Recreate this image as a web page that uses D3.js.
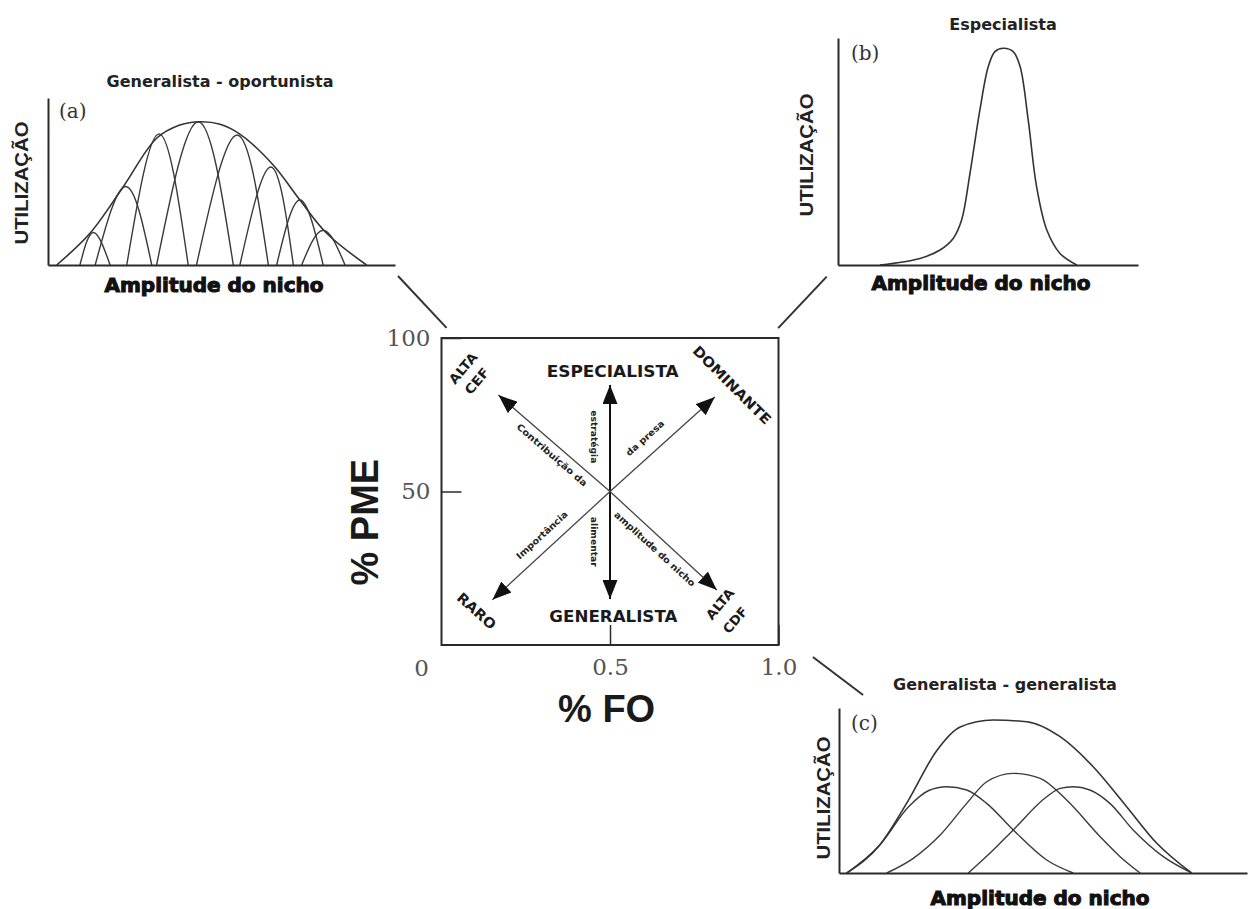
<!DOCTYPE html>
<html>
<head>
<meta charset="utf-8">
<script src="https://cdn.jsdelivr.net/npm/d3@7"></script>
<style>
  body { margin: 0; background: #fff; }
  svg { display: block; }
  .ax path, .ax line { stroke: #2a2a2a; }
</style>
</head>
<body>
<svg id="chart"></svg>
<script>
// utilisation curves
// x: 0-100 along each small axis, y: 0-100 utilisation

// (a) generalista - oportunista: envelope + narrow individual arches
var envelopeA = [[2.5,0],[12.1,19],[21.7,46.9],[31.3,75.9],[38,83.8],[43.8,85.8],[49.6,84.3],[55.3,78.4],[64.9,59.9],[72.6,38.9],[80.3,19],[91.8,0]];
var archesA = [
  [[9.2,0],[13.1,19.5],[17.9,0]],
  [[13.6,0],[22.4,47],[29.9,0]],
  [[22.7,0],[32.0,78.5],[40.4,0]],
  [[31.3,0],[43.3,85.8],[53.4,0]],
  [[42.8,0],[54.5,77.8],[63.5,0]],
  [[55.3,0],[64.2,58.7],[70.7,0]],
  [[65.9,0],[72.6,38.9],[79.3,0]],
  [[73.1,0],[79.3,20.8],[85.6,0]]
];

// (b) especialista
var curveB = [[14,0],[27.3,2.9],[34,6.6],[38.4,11.7],[41.2,19.8],[44,40.4],[47.3,68.3],[50.1,87.4],[52.3,94],[55.1,95.5],[58.4,94],[60.7,87.4],[63.4,63.9],[66.2,34.5],[69.6,15.4],[74,5.1],[79.6,0]];

// (c) generalista - generalista: envelope + three wide bumps
var envelopeC = [[1.9,0],[10,17],[17,44],[23.9,74],[29.7,88.5],[37.8,92.7],[46,91.7],[54.2,82.6],[62.3,64.4],[70.5,40.2],[77.9,18],[86.4,0]];
var bumpsC = [
  [[1.9,0],[10,17],[17,40],[22,50],[26.4,52.3],[31.3,50.3],[36.2,42.2],[42.7,26.1],[50.9,7.9],[57.4,0]],
  [[11.7,0],[18.2,8.9],[24.8,23],[31.3,42.2],[36.2,55.3],[42.7,60.4],[49.3,57.4],[55.8,44.2],[64,22],[68.9,9.9],[73.8,0]],
  [[31.7,0],[37.8,13.9],[42.7,26.1],[50.9,46.2],[54.2,51.3],[57.4,52.3],[61.5,50.3],[66.4,42.2],[72.1,26.1],[79.5,9.9],[86.4,0]]
];

var panelTitles = ["Generalista - oportunista", "Especialista", "Generalista - generalista"];
var panelTags = ["(a)", "(b)", "(c)"];
var panelYLabel = "UTILIZAÇÃO";
var panelXLabel = "Amplitude do nicho";

// central diagram (%FO on x, %PME on y)
var boxYTicks = [50, 100];
var boxXTicks = [0.5, 1.0];
var originLabel = "0";
var arrowCenter = [0.5, 50];
var arrowTips = [[0.5,84.7],[0.5,15.0],[0.169,81.4],[0.811,80.8],[0.151,14.7],[0.817,17.9]];
var cornerLabels = ["ESPECIALISTA", "GENERALISTA", "ALTA", "CEF", "DOMINANTE", "RARO", "ALTA", "CDF"];
var arrowLabels = ["Contribuição da", "estratégia", "da presa", "Importância", "alimentar", "amplitude do nicho"];
var boxXTitle = "% FO", boxYTitle = "% PME";

// ---------------------------------------------------------------
var W = 1256, H = 909;
var ink = "#2a2a2a";
var svg = d3.select("#chart").attr("width", W).attr("height", H);

var panelLayout = [
  {x: [48, 395],  y: [265, 98],  title: [220, 87],  tag: [59, 118],  util: [28, 183],  amp: [214, 292]},
  {x: [838, 1138], y: [265, 38],  title: [1003, 30], tag: [851, 60],  util: [813, 155], amp: [981, 290]},
  {x: [839, 1247], y: [873, 708], title: [1005, 690], tag: [851, 730], util: [830, 798], amp: [1040, 905]}
];
var panelCurves = [
  {main: envelopeA, parts: archesA, partCurve: d3.curveNatural, mainCurve: d3.curveCatmullRom},
  {main: curveB, parts: [], partCurve: d3.curveCatmullRom, mainCurve: d3.curveCatmullRom},
  {main: envelopeC, parts: bumpsC, partCurve: d3.curveMonotoneX, mainCurve: d3.curveMonotoneX}
];

panelLayout.forEach(function(L, i) {
  var x = d3.scaleLinear().domain([0, 100]).range(L.x);
  var y = d3.scaleLinear().domain([0, 100]).range(L.y);
  var g = svg.append("g");
  var C = panelCurves[i];

  var partLine = d3.line().x(function(d) { return x(d[0]); }).y(function(d) { return y(d[1]); }).curve(C.partCurve);
  var mainLine = d3.line().x(function(d) { return x(d[0]); }).y(function(d) { return y(d[1]); }).curve(C.mainCurve);

  g.selectAll("path.part").data(C.parts).enter().append("path")
    .attr("class", "part")
    .attr("d", partLine)
    .attr("fill", "none").attr("stroke", "#3a3a3a").attr("stroke-width", 1.4);

  g.append("path").datum(C.main)
    .attr("d", mainLine)
    .attr("fill", "none").attr("stroke", "#333").attr("stroke-width", 1.6);

  var xa = g.append("g").attr("class", "ax").attr("transform", "translate(0," + y(0) + ")")
    .call(d3.axisBottom(x).tickValues([]).tickSizeOuter(0));
  var ya = g.append("g").attr("class", "ax").attr("transform", "translate(" + x(0) + ",0)")
    .call(d3.axisLeft(y).tickValues([]).tickSizeOuter(0));
  xa.select(".domain").attr("stroke-width", 2);
  ya.select(".domain").attr("stroke-width", 2);

  g.append("text")
    .attr("x", L.title[0]).attr("y", L.title[1])
    .attr("text-anchor", "middle")
    .style("font", "bold 16px 'DejaVu Sans'").attr("fill", "#222")
    .text(panelTitles[i]);

  g.append("text")
    .attr("x", L.tag[0]).attr("y", L.tag[1])
    .style("font", "20px 'DejaVu Serif'").attr("fill", "#333")
    .text(panelTags[i]);

  g.append("text")
    .attr("transform", "translate(" + L.util[0] + "," + L.util[1] + ") rotate(-90)")
    .attr("text-anchor", "middle")
    .attr("textLength", 123).attr("lengthAdjust", "spacingAndGlyphs")
    .style("font", "bold 18px 'Liberation Sans'").attr("fill", "#222")
    .text(panelYLabel);

  g.append("text")
    .attr("x", L.amp[0]).attr("y", L.amp[1])
    .attr("text-anchor", "middle")
    .style("font", "bold 20px 'DejaVu Sans'")
    .attr("fill", "#111").attr("stroke", "#111").attr("stroke-width", 1.1)
    .text(panelXLabel);
});

// ---------------------------------------------------------------
// central box
var bx = d3.scaleLinear().domain([0, 1]).range([441.5, 778.5]);
var by = d3.scaleLinear().domain([0, 100]).range([645, 338]);
var box = svg.append("g");

// leader lines to the three panels (box coordinates)
var leaders = [[[-0.129, 120.2], [0.015, 103.3]], [[1.143, 120.0], [0.999, 103.2]], [[1.102, -3.9], [1.251, -16.3]]];
box.selectAll("line.leader").data(leaders).enter().append("line")
  .attr("x1", function(d) { return bx(d[0][0]); }).attr("y1", function(d) { return by(d[0][1]); })
  .attr("x2", function(d) { return bx(d[1][0]); }).attr("y2", function(d) { return by(d[1][1]); })
  .attr("stroke", "#333").attr("stroke-width", 2);

box.append("rect")
  .attr("x", bx(0)).attr("y", by(100))
  .attr("width", bx(1) - bx(0)).attr("height", by(0) - by(100))
  .attr("fill", "none").attr("stroke", ink).attr("stroke-width", 2);

var yAx = box.append("g").attr("class", "ax").attr("transform", "translate(" + bx(0) + ",0)")
  .call(d3.axisLeft(by).tickValues(boxYTicks).tickSizeInner(-20).tickSizeOuter(0).tickPadding(11));
var xAx = box.append("g").attr("class", "ax").attr("transform", "translate(0," + by(0) + ")")
  .call(d3.axisBottom(bx).tickValues(boxXTicks).tickFormat(d3.format(".1f")).tickSizeInner(-20).tickSizeOuter(0).tickPadding(14));
[yAx, xAx].forEach(function(a) {
  a.select(".domain").remove();
  a.selectAll("line").attr("stroke-width", 1.5);
  a.selectAll("text").style("font", "23px 'DejaVu Serif'").attr("fill", "#555");
});

box.append("text")
  .attr("x", bx(0) - 20).attr("y", by(0) + 31)
  .attr("text-anchor", "middle")
  .style("font", "23px 'DejaVu Serif'").attr("fill", "#555")
  .text(originLabel);

box.append("text")
  .attr("transform", "translate(378," + by(40) + ") rotate(-90)")
  .attr("text-anchor", "middle")
  .style("font", "bold 38px 'Liberation Sans'").attr("fill", "#1a1a1a")
  .text(boxYTitle);

box.append("text")
  .attr("x", bx(0.49)).attr("y", 722)
  .attr("text-anchor", "middle")
  .style("font", "bold 38px 'Liberation Sans'").attr("fill", "#1a1a1a")
  .text(boxXTitle);

// arrows
var defs = svg.append("defs");
defs.append("marker")
  .attr("id", "head").attr("viewBox", "0 0 10 10")
  .attr("refX", 10).attr("refY", 5)
  .attr("markerWidth", 19).attr("markerHeight", 15)
  .attr("markerUnits", "userSpaceOnUse").attr("orient", "auto")
  .attr("preserveAspectRatio", "none")
  .append("path").attr("d", "M0,0L10,5L0,10Z").attr("fill", "#111");

box.selectAll("line.arrow").data(arrowTips).enter().append("line")
  .attr("x1", bx(arrowCenter[0])).attr("y1", by(arrowCenter[1]))
  .attr("x2", function(d) { return bx(d[0]); }).attr("y2", function(d) { return by(d[1]); })
  .attr("stroke", function(d, i) { return i < 2 ? "#111" : "#444"; })
  .attr("stroke-width", function(d, i) { return i < 2 ? 2 : 1.3; })
  .attr("marker-end", "url(#head)");

// corner / end labels: [x, y, rotation, font size, text length]
var cornerLayout = [
  [0.508, 89.0, 0, 15, 132],
  [0.510, 9.2, 0, 15, 128],
  [0.064, 90.2, -50, 13, 36],
  [0.105, 86.0, -50, 13, 30],
  [0.862, 84.7, 45, 14, 104],
  [0.104, 11.1, 42, 14, 47],
  [0.826, 13.4, -50, 13, 36],
  [0.871, 8.1, -50, 13, 30]
];
box.selectAll("text.corner").data(cornerLabels).enter().append("text")
  .attr("class", "corner")
  .attr("transform", function(d, i) { var p = cornerLayout[i]; return "translate(" + bx(p[0]) + "," + by(p[1]) + ") rotate(" + p[2] + ")"; })
  .attr("dy", "0.36em")
  .attr("text-anchor", "middle")
  .attr("textLength", function(d, i) { return cornerLayout[i][4]; })
  .attr("lengthAdjust", "spacingAndGlyphs")
  .style("font-family", "'DejaVu Sans'").style("font-weight", "bold")
  .style("font-size", function(d, i) { return cornerLayout[i][3] + "px"; })
  .attr("fill", "#1a1a1a")
  .text(function(d) { return d; });

// small labels along the arrows: [x, y, rotation, text length]
var arrowLabelLayout = [
  [0.328, 61.9, 41, 90],
  [0.452, 67.8, 90, 53],
  [0.604, 67.4, -42, 48],
  [0.298, 35.8, -42.5, 66],
  [0.452, 33.6, 90, 50],
  [0.633, 31.3, 42.5, 106]
];
box.selectAll("text.alab").data(arrowLabels).enter().append("text")
  .attr("class", "alab")
  .attr("transform", function(d, i) { var p = arrowLabelLayout[i]; return "translate(" + bx(p[0]) + "," + by(p[1]) + ") rotate(" + p[2] + ")"; })
  .attr("dy", "0.35em")
  .attr("text-anchor", "middle")
  .attr("textLength", function(d, i) { return arrowLabelLayout[i][3]; })
  .attr("lengthAdjust", "spacingAndGlyphs")
  .style("font", "bold 9px 'DejaVu Sans'")
  .attr("fill", "#222")
  .text(function(d) { return d; });
</script>
</body>
</html>
